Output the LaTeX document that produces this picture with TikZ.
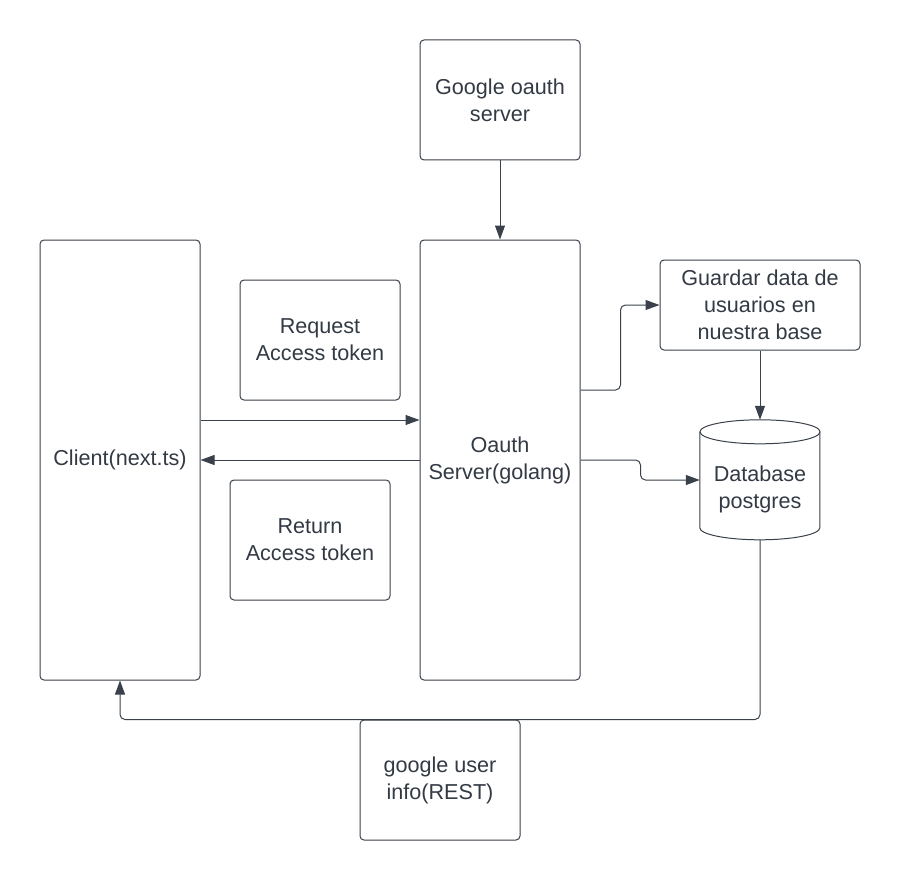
\documentclass[tikz,border=0pt]{standalone}
\usepackage{fontspec}
\setmainfont{Liberation Sans}
\usetikzlibrary{arrows.meta}
\definecolor{linegray}{HTML}{3A414A}
\definecolor{textgray}{HTML}{333A44}
\newcommand{\boxfont}{\fontsize{21.6}{27}\selectfont}

\begin{document}
\begin{tikzpicture}[x = 1pt, y = -1pt,
  box/.style = {draw = linegray, line width = 1pt, rounded corners = 4pt, align = center, inner sep = 0pt, text = textgray, font = \boxfont},
  flow/.style = {draw = linegray, line width = 1pt, rounded corners = 5pt, -{Triangle[length = 14pt, width = 10pt]}}]
\useasboundingbox (0,0) rectangle (900,880);
% boxes
\node[box, minimum width = 160pt, minimum height = 120pt] (google) at (500,100) {Google oauth\\server};
\node[box, minimum width = 160pt, minimum height = 440pt] (client) at (120,460) {Client(next.ts)};
\node[box, minimum width = 160pt, minimum height = 440pt] (oauth) at (500,460) {Oauth\\Server(golang)};
\node[box, minimum width = 160pt, minimum height = 120pt] (request) at (320,340) {Request\\Access token};
\node[box, minimum width = 160pt, minimum height = 120pt] (return) at (310,540) {Return\\Access token};
\node[box, minimum width = 200pt, minimum height = 90pt] (guardar) at (760,305) {Guardar data de\\usuarios en\\nuestra base};
\node[box, minimum width = 160pt, minimum height = 120pt] (userinfo) at (440,780) {google user\\info(REST)};
% database
\node[inner sep = 0pt, minimum width = 120pt, minimum height = 120pt] (db) at (760,480) {};
\node[align = center, inner sep = 0pt, text = textgray, font = \boxfont] (dbtext) at ([yshift = -9pt]db.center) {Database\\postgres};
\draw[linegray, line width = 1pt] ([yshift = -12pt]db.north) ellipse [x radius = 60pt, y radius = 12pt];
\draw[linegray, line width = 1pt] ([yshift = -12pt]db.north west) -- ++(0,96) arc[start angle = 180, end angle = 360, x radius = 60pt, y radius = 12pt] -- ++(0,-96);
% arrows
\draw[flow] (google) -- (oauth);
\draw[flow] ([yshift = 40pt]client.east) -- ([yshift = 40pt]oauth.west);
\draw[flow] (oauth.west) -- (client.east);
\draw[flow] ([yshift = 70pt]oauth.east) -- ++(40,0) |- (guardar.west);
\draw[flow] (oauth.east) -- ++(60,0) |- (db.west);
\draw[flow] (guardar) -- (db.north);
\draw[flow] (db.south) |- (userinfo.north) -| (client.south);
\end{tikzpicture}
\end{document}
